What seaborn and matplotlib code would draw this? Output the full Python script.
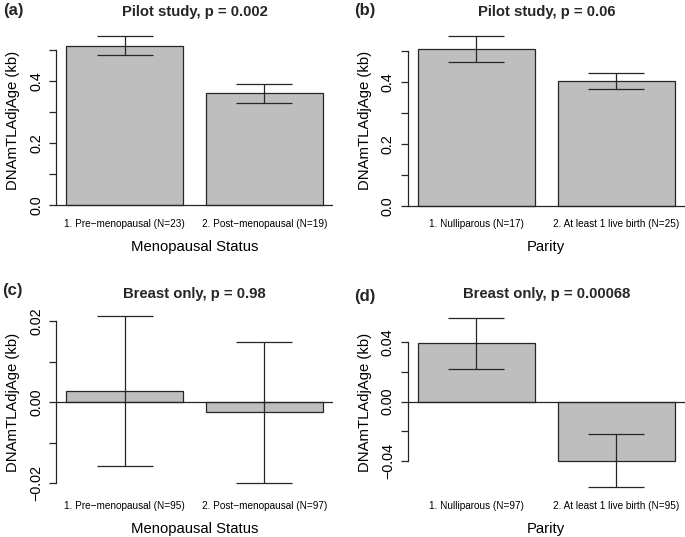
import pandas as pd
import numpy as np
import seaborn as sns
import matplotlib.pyplot as plt

# values (mean and standard error, kb)
groups_meno_pilot = ['1. Pre\u2212menopausal (N=23)', '2. Post\u2212menopausal (N=19)']
mean_meno_pilot = [0.514, 0.360]
se_meno_pilot = [0.031, 0.030]

groups_parity_pilot = ['1. Nulliparous (N=17)', '2. At least 1 live birth (N=25)']
mean_parity_pilot = [0.508, 0.404]
se_parity_pilot = [0.043, 0.027]

groups_meno_breast = ['1. Pre\u2212menopausal (N=95)', '2. Post\u2212menopausal (N=97)']
mean_meno_breast = [0.0027, -0.0025]
se_meno_breast = [0.0184, 0.0174]

groups_parity_breast = ['1. Nulliparous (N=97)', '2. At least 1 live birth (N=95)']
mean_parity_breast = [0.0392, -0.0396]
se_parity_breast = [0.0171, 0.0176]

titles = ['Pilot study, p = 0.002', 'Pilot study, p = 0.06',
          'Breast only, p = 0.98', 'Breast only, p = 0.00068']
tags = ['(a)', '(b)', '(c)', '(d)']
xlabels = ['Menopausal Status', 'Parity', 'Menopausal Status', 'Parity']
ylabel = 'DNAmTLAdjAge (kb)'

yticks = [[0.0, 0.1, 0.2, 0.3, 0.4, 0.5],
          [0.0, 0.1, 0.2, 0.3, 0.4, 0.5],
          [-0.02, -0.01, 0.0, 0.01, 0.02],
          [-0.04, -0.02, 0.0, 0.02, 0.04]]
yticklabels = [['0.0', '', '0.2', '', '0.4', ''],
               ['0.0', '', '0.2', '', '0.4', ''],
               ['\u22120.02', '', '0.00', '', '0.02'],
               ['\u22120.04', '', '0.00', '', '0.04']]
ylims = [(-0.0225, 0.5683), (-0.0214, 0.5734), (-0.0227, 0.0225), (-0.0621, 0.0609)]

panels = [(groups_meno_pilot, mean_meno_pilot, se_meno_pilot),
          (groups_parity_pilot, mean_parity_pilot, se_parity_pilot),
          (groups_meno_breast, mean_meno_breast, se_meno_breast),
          (groups_parity_breast, mean_parity_breast, se_parity_breast)]

sns.set_theme(style='white')
plt.rcParams['font.family'] = ['Liberation Sans', 'DejaVu Sans']

W, H = 685, 537
fig = plt.figure(figsize=(W / 100, H / 100), dpi=100)

# axes boxes in pixels: left, top, right, bottom
boxes = [(56, 28.8, 333, 212.3), (407.5, 28.8, 685, 212.3),
         (56, 310.8, 333, 494.3), (407.5, 310.8, 685, 494.3)]
tag_pos = [(13, 10), (365, 11), (12, 290), (365, 297)]

ink = '#262626'

for i, (groups, means, se) in enumerate(panels):
    l, t, r, b = boxes[i]
    ax = fig.add_axes([l / W, 1 - b / H, (r - l) / W, (b - t) / H])
    df = pd.DataFrame({'group': groups, 'value': means})
    sns.barplot(data=df, x='group', y='value', ax=ax, color='#bebebe',
                saturation=1, width=1 / 1.2, edgecolor=ink, linewidth=0.9,
                errorbar=None)
    ax.errorbar(np.arange(len(groups)), means, yerr=se, fmt='none',
                ecolor=ink, elinewidth=0.9, capsize=20, capthick=0.9, zorder=5)
    ax.axhline(0, color=ink, lw=0.9, zorder=4)

    ax.set_xlim(-0.49, 1.49)
    ax.set_ylim(*ylims[i])
    ax.set_yticks(yticks[i])
    ax.set_yticklabels(yticklabels[i])
    for side in ['top', 'right', 'bottom']:
        ax.spines[side].set_visible(False)
    ax.spines['left'].set_color(ink)
    ax.spines['left'].set_linewidth(0.9)
    ax.spines['left'].set_bounds(yticks[i][0], yticks[i][-1])
    ax.tick_params(axis='y', left=True, length=5, width=0.9, color=ink,
                   labelsize=10.4, labelrotation=90, pad=4, labelcolor='black')
    for lab in ax.get_yticklabels():
        lab.set_va('center')
    ax.tick_params(axis='x', length=0, labelsize=7.2, pad=5, labelcolor='black')

    ax.set_xlabel(xlabels[i], fontsize=10.7, color='black')
    ax.set_ylabel(ylabel, fontsize=10.7, color='black')
    ax.xaxis.set_label_coords(0.5, -34.4 / (b - t))
    ax.xaxis.label.set_va('center')
    ax.yaxis.set_label_coords(-42.5 / (r - l), 0.5)
    ax.yaxis.label.set_va('center')

    ax.text(0.5, 1 + 17 / (b - t), titles[i], transform=ax.transAxes,
            ha='center', va='center', fontsize=10.7, fontweight='bold')
    fig.text(tag_pos[i][0] / W, 1 - tag_pos[i][1] / H, tags[i],
             ha='center', va='center', fontsize=12, fontweight='bold')

fig.savefig('out.png', dpi=100, facecolor='white')
